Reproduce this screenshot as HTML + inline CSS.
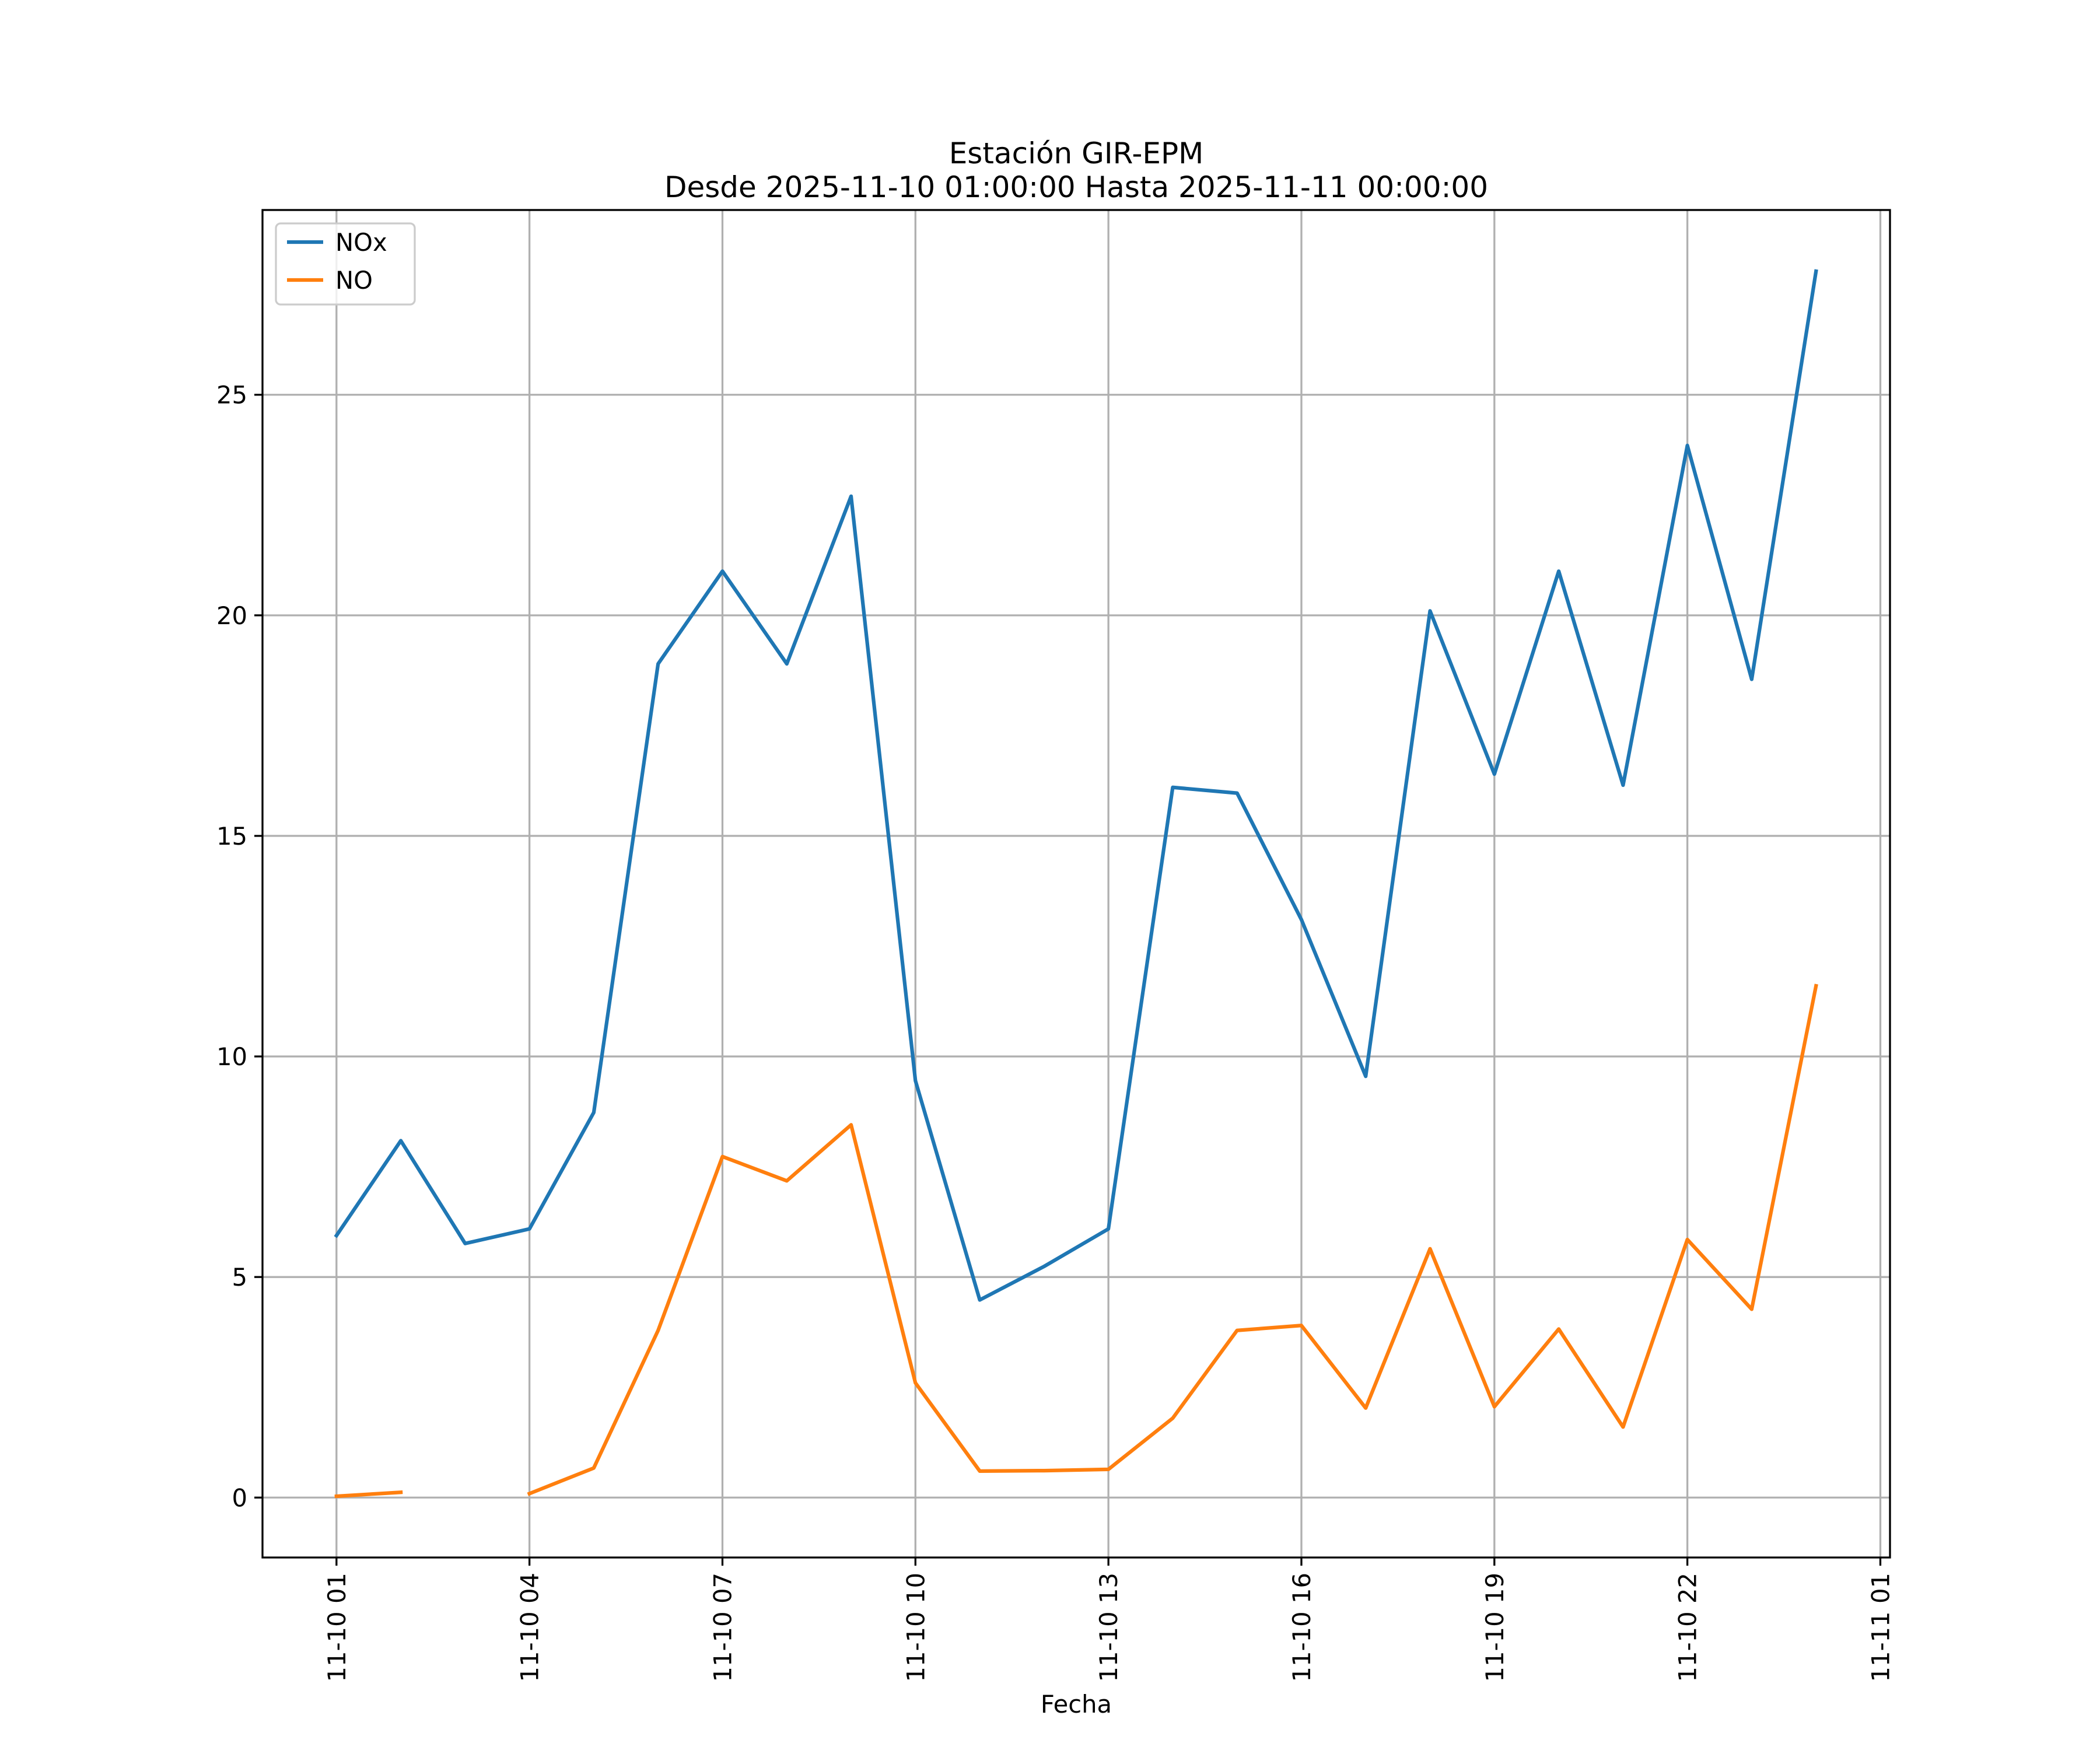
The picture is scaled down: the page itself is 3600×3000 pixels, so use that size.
<!DOCTYPE html>
<html><head><meta charset="utf-8">
<style>
html,body{margin:0;padding:0;background:#fff;}
svg{display:block;font-family:"DejaVu Sans","Liberation Sans",sans-serif;}
</style></head>
<body>
<svg id="chart" width="3600" height="3000" viewBox="0 0 3600 3000" xmlns="http://www.w3.org/2000/svg">
<rect width="3600" height="3000" fill="#fff"/>
<text x="1845" y="280" font-size="50" text-anchor="middle">Estación GIR-EPM</text>
<text x="1845" y="338" font-size="50" text-anchor="middle">Desde 2025-11-10 01:00:00 Hasta 2025-11-11 00:00:00</text>
<g id="grid"></g>
<g id="series"></g>
<rect x="450" y="360" width="2790" height="2310" fill="none" stroke="#000" stroke-width="3.3"/>
<g id="ticks"></g>
<text x="1845" y="2936" font-size="41.7" text-anchor="middle">Fecha</text>
<g id="legend">
<rect x="473" y="383" width="238" height="139" rx="8" fill="#fff" fill-opacity="0.8" stroke="#ccc" stroke-width="3.3"/>
<line x1="492" y1="415" x2="554" y2="415" stroke="#1f77b4" stroke-width="6.25"/>
<text x="575" y="430" font-size="41.7">NOx</text>
<line x1="492" y1="480" x2="554" y2="480" stroke="#ff7f0e" stroke-width="6.25"/>
<text x="575" y="495" font-size="41.7">NO</text>
</g>
</svg>
<script>
const hours = [1,2,3,4,5,6,7,8,9,10,11,12,13,14,15,16,17,18,19,20,21,22,23,24];
const noxValues = [5.94,8.09,5.76,6.09,8.73,18.9,21.0,18.9,22.7,9.45,4.48,5.24,6.09,16.1,15.97,13.1,9.55,20.1,16.4,21.0,16.15,23.85,18.55,27.8];
const noValues = [0.03,0.12,null,0.09,0.67,3.79,7.73,7.18,8.45,2.6,0.6,0.61,0.64,1.8,3.79,3.9,2.03,5.64,2.06,3.82,1.6,5.85,4.27,11.6];
const xTickHours = [1,4,7,10,13,16,19,22,25];
const xTickLabels = ["11-10 01","11-10 04","11-10 07","11-10 10","11-10 13","11-10 16","11-10 19","11-10 22","11-11 01"];
const yTickValues = [0,5,10,15,20,25];
const yTickLabels = ["0","5","10","15","20","25"];

const NS="http://www.w3.org/2000/svg";
const L=450,R=3240,T=360,B=2670;
const xMin=-0.15,xMax=25.15;
const allV=noxValues.concat(noValues).filter(v=>v!==null);
const dmin=Math.min(...allV),dmax=Math.max(...allV),pad=(dmax-dmin)*0.05;
const yMin=dmin-pad,yMax=dmax+pad;
const xs=h=>L+(h-xMin)/(xMax-xMin)*(R-L);
const ys=v=>B-(v-yMin)/(yMax-yMin)*(B-T);
function mk(tag,attrs,parent){const e=document.createElementNS(NS,tag);for(const k in attrs)e.setAttribute(k,attrs[k]);parent.appendChild(e);return e;}
const grid=document.getElementById('grid'),ticks=document.getElementById('ticks'),series=document.getElementById('series');
xTickHours.forEach((h,i)=>{
  const x=xs(h);
  const g=mk('line',{x1:x,y1:T,x2:x,y2:B,stroke:'#b0b0b0','stroke-width':3.3},grid);
  
  
  const t=mk('line',{x1:x,y1:B,x2:x,y2:B+14,stroke:'#000','stroke-width':3.3},ticks);
  
  
  const tx=mk('text',{x:0,y:0,'font-size':41.7,'text-anchor':'end',transform:`translate(${x+15},${B+26}) rotate(-90)`},ticks);
  tx.textContent=xTickLabels[i];
  
  
});
yTickValues.forEach((v,i)=>{
  const y=ys(v);
  const g=mk('line',{x1:L,y1:y,x2:R,y2:y,stroke:'#b0b0b0','stroke-width':3.3},grid);
  
  
  const t=mk('line',{x1:L-14,y1:y,x2:L,y2:y,stroke:'#000','stroke-width':3.3},ticks);
  
  
  const tx=mk('text',{x:L-26,y:y+15,'font-size':41.7,'text-anchor':'end'},ticks);
  tx.textContent=yTickLabels[i];
  
  
});
function draw(vals,color,name){
  let d='',pen=false;
  vals.forEach((v,i)=>{
    if(v===null){pen=false;return;}
    d+=(pen?'L':'M')+xs(hours[i]).toFixed(1)+' '+ys(v).toFixed(1)+' ';pen=true;
  });
  const p=mk('path',{d:d,fill:'none',stroke:color,'stroke-width':6.25,'stroke-linejoin':'round','stroke-linecap':'square'},series);
  
  
}
draw(noxValues,'#1f77b4','nox-line');
draw(noValues,'#ff7f0e','no-line');
</script>
</body></html>
